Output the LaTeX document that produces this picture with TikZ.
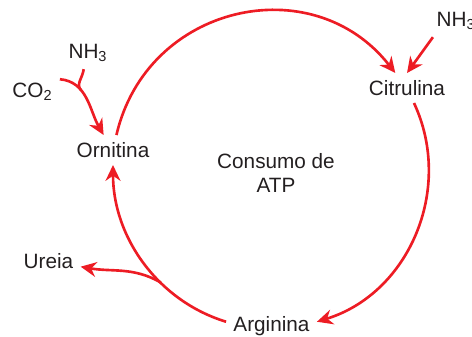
\documentclass[tikz,border=0pt]{standalone}
\usepackage{fontspec}
\setmainfont{Liberation Sans}
\usepackage{xcolor}
\definecolor{cyclered}{RGB}{237,28,36}
\definecolor{inkgray}{RGB}{35,31,32}
\usepackage{tikz}
\usetikzlibrary{arrows.meta}

\begin{document}
\begin{tikzpicture}[
    x=0.02cm, y=0.02cm,
    every node/.style={font=\fontsize{11.8}{13.6}\selectfont, text=inkgray, inner sep=4pt},
    flow/.style={draw=cyclered, line width=1.5pt, -{Stealth[length=9pt, width=8.5pt]}},
    feed/.style={draw=cyclered, line width=1.5pt},
  ]
    \useasboundingbox (0, 0) rectangle (472, 336);

    % 循环中的四种物质
    \node (orn) at (113, 186) {Ornitina};
    \node (cit) at (407, 248) {Citrulina};
    \node (arg) at (271.5, 9.5) {Arginina};
    \node[align=center] (atp) at (276, 163) {Consumo de\\ATP};

    % 进入与离开循环的物质
    \node (co2)  at (32.5, 244) {CO\textsubscript{2}};
    \node (nh3l) at (88, 283)   {NH\textsubscript{3}};
    \node (nh3r) at (456, 315)  {NH\textsubscript{3}};
    \node (ure)  at (48.5, 75)  {Ureia};

    % 循环的三段弧
    \draw[flow] (orn) to[out=77, in=128, looseness=1.2] (cit);
    \draw[flow] (cit) to[out=-65, in=17, looseness=1.02] (arg.6);
    \draw[flow] (arg.174) to[out=163, in=-90, looseness=0.95]
      coordinate[pos=0.37] (split) (orn);

    % 左上方汇入 Ornitina
    \draw[flow] (co2.25) to[out=-5, in=120] coordinate[pos=0.35] (merge) (orn.122);
    \draw[feed] (nh3l.-105) to[out=-95, in=135] (merge);

    % 右上方汇入 Citrulina
    \draw[flow] (nh3r.-145) -- (cit.north);

    % 分出 Ureia
    \draw[flow] (split) to[out=150, in=-10] (ure);
  \end{tikzpicture}
\end{document}
